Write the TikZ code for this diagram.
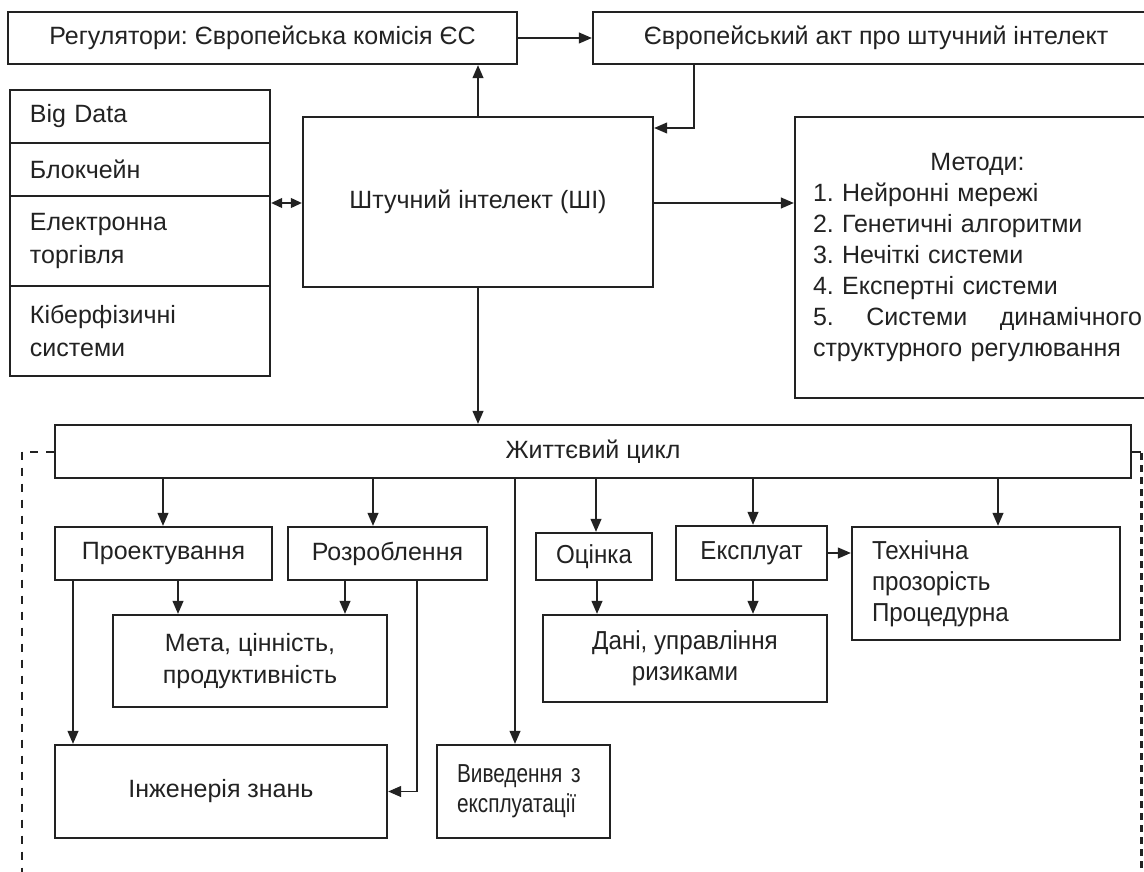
\documentclass[tikz,border=0pt]{standalone}
\usepackage{fontspec}
\setmainfont{Liberation Sans}
\newfontfamily\narrowfont[FakeStretch=0.93]{Liberation Sans}
\newfontfamily\narrowerfont[FakeStretch=0.8]{Liberation Sans}
\usetikzlibrary{arrows.meta}
\definecolor{ink}{HTML}{222222}
\begin{document}
\frenchspacing
\begin{tikzpicture}[x=1pt,y=-1pt,
  box/.style={draw=ink, line width=2.4pt, inner sep=0pt, text=ink, font=\fontsize{25}{32}\selectfont\frenchspacing, align=center},
  lbox/.style={box, align=left},
  nbox/.style={font=\narrowfont\fontsize{26}{31}\selectfont\frenchspacing},
  conn/.style={draw=ink, line width=1.2pt, -{Triangle[length=13pt,width=11pt]}},
  dconn/.style={draw=ink, line width=1.2pt, {Triangle[length=11pt,width=10pt]}-{Triangle[length=11pt,width=10pt]}},
  frame/.style={draw=ink, line width=2pt, dash pattern=on 8pt off 8pt},
  frameR/.style={draw=ink, line width=3pt, dash pattern=on 7pt off 5pt},
]
\clip (0,0) rectangle (1144,872);
\fill[white] (0,0) rectangle (1144,872);

% top row
\node[box, minimum width=509pt, minimum height=52pt] (reg) at (262.5,38) {Регулятори: Європейська комісія ЄС};
\node[box, minimum width=566pt, minimum height=52pt] (akt) at (876,38) {Європейський акт про штучний інтелект};

% AI
\node[box, minimum width=350pt, minimum height=170pt] (ai) at (478,202) {Штучний інтелект (ШІ)};

% left stack
\node[lbox, minimum width=260pt, minimum height=53pt, text width=220pt] (bd) at (140,116.5) {Big Data};
\node[lbox, minimum width=260pt, minimum height=53pt, text width=220pt] (bc) at (140,169.5) {Блокчейн};
\node[lbox, minimum width=260pt, minimum height=90pt, text width=220pt, font=\fontsize{25}{33}\selectfont] (et) at (140,241) {Електронна\\торгівля};
\node[lbox, minimum width=260pt, minimum height=90pt, text width=220pt, font=\fontsize{25}{33}\selectfont] (cp) at (140,331) {Кіберфізичні\\системи};

% methods
\node[lbox, minimum width=365pt, minimum height=281pt, text width=329pt, font=\fontsize{25}{31}\selectfont\frenchspacing] (meth) at (977.5,257.5)
 {\leavevmode\hbox to 329pt{\hfil Методи:\hfil}\\1. Нейронні мережі\\2. Генетичні алгоритми\\3. Нечіткі системи\\4. Експертні системи\\\leavevmode\hbox to 329pt{5.\hfill Системи\hfill динамічного}\\структурного регулювання};

% life cycle
\node[box, minimum width=1076pt, minimum height=53pt] (lc) at (593,451.5) {Життєвий цикл};

% lower boxes
\node[box, minimum width=217pt, minimum height=53pt] (proj) at (163.5,553.5) {Проектування};
\node[box, minimum width=199pt, minimum height=53pt] (rozr) at (387.5,553.5) {Розроблення};
\node[box, nbox, minimum width=116pt, minimum height=47pt] (ocin) at (594,556.5) {Оцінка};
\node[box, nbox, minimum width=151pt, minimum height=54pt] (ekspl) at (751.5,553) {Експлуат};
\node[lbox, nbox, minimum width=268pt, minimum height=113pt, text width=228pt] (tekh) at (986,583.5) {Технічна\\прозорість\\Процедурна};
\node[box, minimum width=274pt, minimum height=92pt] (meta) at (250,661) {Мета, цінність,\\продуктивність};
\node[box, nbox, minimum width=284pt, minimum height=87pt] (dani) at (685,658.5) {Дані, управління\\ризиками};
\node[box, minimum width=332pt, minimum height=93pt] (inzh) at (221,791.5) {Інженерія знань};
\node[lbox, minimum width=173pt, minimum height=93pt, text width=133pt, font=\narrowerfont\fontsize{26}{30}\selectfont] (vyv) at (523.5,791.5) {\mbox{Виведення з}\\\mbox{експлуатації}};

% connectors top
\draw[conn] (reg.east) -- (akt.west);
\draw[conn] (ai.north) -- (ai.north |- reg.south);
\draw[conn] (akt.south -| 694,0) |- (ai.east |- 0,128);
\draw[dconn] (bc.east |- 0,203) -- (ai.west |- 0,203);
\draw[conn] (ai.east |- 0,203) -- (meth.west |- 0,203);
\draw[conn] (ai.south) -- (ai.south |- lc.north);

% dashed frame
\draw[frame] (lc.west) -- (22,451.5) -- (22,880);
\draw[draw=ink, line width=2pt] (lc.east) -- (1141,451.5);
\draw[frameR] (1141,453) -- (1141,880);

% connectors lower
\draw[conn] (lc.south -| 163,0) -- (proj.north -| 163,0);
\draw[conn] (lc.south -| 373,0) -- (rozr.north -| 373,0);
\draw[conn] (lc.south -| 596,0) -- (ocin.north -| 596,0);
\draw[conn] (lc.south -| 753,0) -- (ekspl.north -| 753,0);
\draw[conn] (lc.south -| 998,0) -- (tekh.north -| 998,0);
\draw[conn] (lc.south -| 515,0) -- (vyv.north -| 515,0);
\draw[conn] (proj.south -| 178,0) -- (meta.north -| 178,0);
\draw[conn] (rozr.south -| 345,0) -- (meta.north -| 345,0);
\draw[conn] (proj.south -| 73,0) -- (inzh.north -| 73,0);
\draw[conn] (rozr.south -| 417,0) |- (inzh.east);
\draw[conn] (ocin.south -| 597,0) -- (dani.north -| 597,0);
\draw[conn] (ekspl.south -| 753,0) -- (dani.north -| 753,0);
\draw[conn] (ekspl.east |- 0,553) -- (tekh.west |- 0,553);
\end{tikzpicture}
\end{document}
